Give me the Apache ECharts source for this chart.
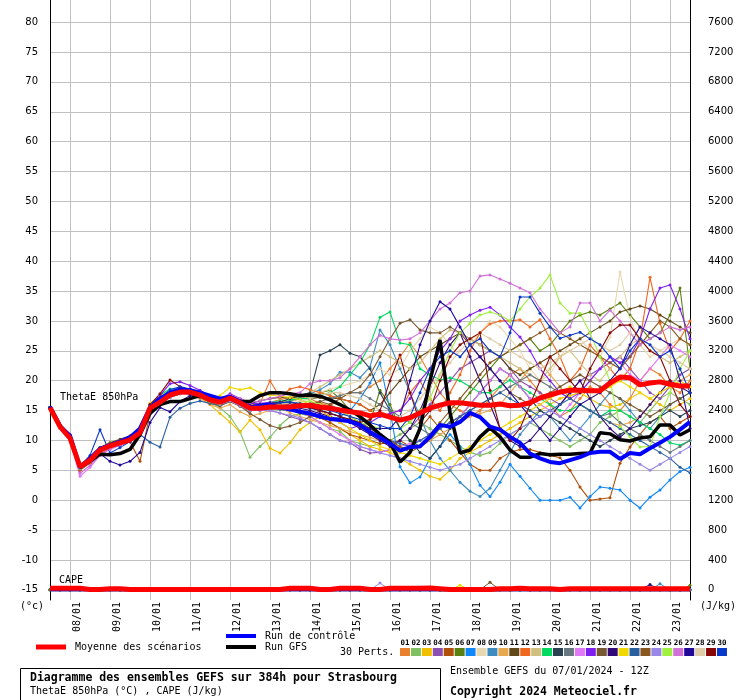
<!DOCTYPE html>
<html><head><meta charset="utf-8">
<script src="https://cdn.jsdelivr.net/npm/echarts@6/dist/echarts.min.js"></script>
<style>html,body{margin:0;padding:0;background:#fff}#c{width:740px;height:700px}</style>
</head><body><div id="c"></div><script>
// 6-hourly steps, 07/01/2024 12Z -> 23/01/2024 12Z
const times = ['07/01 12Z','07/01 18Z',
'08/01 00Z','08/01 06Z','08/01 12Z','08/01 18Z','09/01 00Z','09/01 06Z','09/01 12Z','09/01 18Z',
'10/01 00Z','10/01 06Z','10/01 12Z','10/01 18Z','11/01 00Z','11/01 06Z','11/01 12Z','11/01 18Z',
'12/01 00Z','12/01 06Z','12/01 12Z','12/01 18Z','13/01 00Z','13/01 06Z','13/01 12Z','13/01 18Z',
'14/01 00Z','14/01 06Z','14/01 12Z','14/01 18Z','15/01 00Z','15/01 06Z','15/01 12Z','15/01 18Z',
'16/01 00Z','16/01 06Z','16/01 12Z','16/01 18Z','17/01 00Z','17/01 06Z','17/01 12Z','17/01 18Z',
'18/01 00Z','18/01 06Z','18/01 12Z','18/01 18Z','19/01 00Z','19/01 06Z','19/01 12Z','19/01 18Z',
'20/01 00Z','20/01 06Z','20/01 12Z','20/01 18Z','21/01 00Z','21/01 06Z','21/01 12Z','21/01 18Z',
'22/01 00Z','22/01 06Z','22/01 12Z','22/01 18Z','23/01 00Z','23/01 06Z','23/01 12Z'];

const thetaTicks = [-15,-10,-5,0,5,10,15,20,25,30,35,40,45,50,55,60,65,70,75,80];
const capeTicks = [0,400,800,1200,1600,2000,2400,2800,3200,3600,4000,4400,4800,5200,5600,6000,6400,6800,7200,7600];

// ThetaE 850 hPa (°C)
const meanTheta = [15.5,12.3,10.4,5.6,6.7,8.4,9.1,9.6,10.1,11.3,15.4,16.4,17.6,18.1,18.1,17.6,16.8,16.4,17.1,16.3,15.4,15.4,15.6,15.6,15.6,15.8,15.9,15.6,15.4,15.1,14.8,14.6,14.1,14.4,13.9,13.4,13.8,14.6,15.4,15.9,16.3,16.3,16.1,15.9,15.9,16.1,15.8,15.9,16.3,17.1,17.6,18.1,18.4,18.4,18.3,18.3,19.6,20.6,20.5,19.3,19.6,19.8,19.4,19.1,19.1];
const controlTheta = [15.6,12.4,10.8,5.5,7,8.6,9.2,9.8,10.5,12,15.5,17,18,18.5,18.4,18,17.5,17,17.3,16.5,15.5,15.8,16,15.5,15.2,14.8,14.5,14,13.6,13.4,13.2,12.6,11.4,10.5,9.5,8.3,8.9,9,10.6,12.6,12.3,13.1,14.6,13.9,12.3,11.8,10.6,9.6,7.8,7,6.4,6.2,6.7,7.2,7.9,8.1,8.1,6.9,7.9,7.7,8.7,9.6,10.6,11.8,13.1];
const gfsTheta = [15.6,12.5,10.5,5.5,6.5,7.7,7.6,7.8,8.5,11,14.5,16,16.5,16.5,17,17.5,17,16.5,17,16.5,16.5,17.5,18,18,17.8,17.5,17.6,17.4,16.8,16,15.1,14,12.6,11,9.7,6.4,8,12,20,26.8,14.6,7.9,8.4,10.6,12.1,10.6,8.4,7.2,7.2,7.8,7.6,7.7,7.7,7.8,7.9,11.3,11.1,10.1,9.9,10.4,10.6,12.6,12.6,10.9,11.8];

const pert01 = [15.5,12,10.6,5.2,7,8.8,9.5,10,10.6,12,16,17.2,18.2,18.6,18.4,17.8,17,16.8,17.5,16.6,15.8,16,16.4,16.8,17.2, 17.6,17,16.2,15.8,17,18,18,19,20,22,24, 26.3,24,21,18,16,15,14,15,17,19,21,22,20,18,16,14,15,17,19,18,16,15,17,20,22,21,19,18,20];
const pert02 = [15.5,12.5,10.2,5.8,6.5,8.2,9.3,9.9,10.5,11.8,15.2,16.2,17.4,18,17.8,17.2,16.4,15.5,14,11.5,7.2,9,10.5,12.5,14, 14.5,14,13,12,11.5,10,9.5,9,9.5,10,11, 12,13,12,11,10,9,8,7.5,8,9.5,11,12,13,12,11,10,9,10,11,13,14,15,14,13,15,17,18,17,16];
const pert03 = [15.5,12.4,10.8,5.5,6.8,8.6,9.6,10.1,10.6,12.2,16.2,17.4,18.3,18.4,18,17.2,16,14.5,13.1,11.4,13.4,11.8,8.7,7.9,9.6, 11.8,13,14,13,12,11,10,9,8.5,8,7, 6,5,4,3.5,5,7,8,9,10,11,12,13,14,15,16,17,17.5,18,17,16,15.5,16,17,18,17,16,15,16,17];
const pert04 = [15.5,12.2,10.4,5.4,6.6,8.2,8.9,9.4,10,11,15,16.5,17.8,18.5,18.6,18,17.2,16.6,17.5,16.8,15.8,15.2,15,14.6,14, 13.5,13,12,11,10,9.6,8.5,7.9,8,8.5,10, 12,14,16,18,20,22,23,24,25,24,22,20,19,18,17,16,18,20,21,22,23,24,22,20,18,17,19,21,22];
const pert05 = [15.5,12.6,11,5,6.2,7.8,8.6,9.2,9.8,6.5,14.5,16,17.2,17.8,17.8,17.4,16.6,16.2,16.8,16,15,15.2,15.4,15.2,15, 14.6,14.2,13.8,13,12,11,10.5,10,9.5,9.5,10, 9,12,14,12,10,8,6,5,5,7,8,8.5,8.5,8,7.5,7.1,5,2.2,0,0.2,0.4,6.2,8.9,11,13,14,12,13,14];
const pert06 = [15.5,12.4,10.5,5.7,6.9,8.5,9.3,9.8,10.4,11.6,15.6,16.8,17.8,18.2,18,17.5,16.7,16.2,17,16.2,15.6,15.8,16,16.2,16.6, 17,17.5,18,18.4,17,15,14,13,18.4,16,12, 10,9,10,12,14,16,18,20,22,24,25,26,27,25,26,28,30,31,31.5,31,32,33,31,29,27,28,31,35.5,22];
const pert07 = [15.5,12.2,10.3,5.8,7,8.8,9.4,9.8,10.4,12,15.8,17,18,18.6,18.4,17.8,17,16.5,17.2,16.6,15.8,15.6,15.4,15.2,15, 14.8,14.5,14,13.5,14,15,17,19.6,23,15,5.6, 2.9,3.9,7,9,11,9,6,2.5,0.6,3,6,4,2,0,0,0,0.5,-1.3,0.6,2.2,2,1.7,0,-1.3,0.5,1.7,3.4,4.8,5.5];
const pert08 = [15.5,12.3,10.6,5.5,6.6,8.3,9,9.5,10,11.2,15.2,16.6,17.8,18.4,18.2,17.6,16.8,16.4,17.2,16.6,15.8,16,16.4,16.6,16.8, 17,17.4,18,18.6,19,19.5,20,21,22,21,22, 25,27,29,28,26,24,26,28,30,29,27,25,22,20,21,24,26,27,25,24,27.3,38.2,30.6,26,24,25,26,27,26];
const pert09 = [15.5,12.4,10.6,5.5,6.8,8.5,9.2,9.7,10.2,11.4,15.4,16.6,17.6,18,17.8,17.2,16.6,16.1,16.8,16,15.2,15.4,15.8,16.2,16.6, 17,17.8,18.5,19.5,21.4,21.4,20.5,22.3,28.5,26,22, 18,14,10,7,5,3,1.5,0.6,2,5,8,11,13,15,14,12,10,12,14,16,18,17,15,13,12,14,16,17,18];
const pert10 = [15.5,12.1,10.2,5.3,6.4,8,8.8,9.4,9.9,11,15,16.2,17.3,17.8,17.6,17,16,15.4,16,14.8,14,14.5,15,15.5,14.6, 14,13.5,13,12.5,12,11.5,11,10.5,10,9.5,9, 8.5,9,10,11,12,13,14,14.5,15,16,18,20,22,23,21,19,17,16,15,14,13,12.5,13,14,16,18,19,20,21];
const pert11 = [15.5,12.5,10.8,5.9,7.2,8.8,9.6,10.2,10.8,12,15.8,17,18.2,18.8,18.6,18,17.2,16.8,17.5,16.8,16.2,16.6,17,17.2,17.1, 17.1,17,17.2,17.1,17,16.5,16,15,16,18,20, 22,24,25,26,27,28,27,26,25,24,22,21,22,23,24,25,26,27,28,29,30,31.5,32,32.5,32,31,30,29,28];
const pert12 = [15.5,12.3,10.5,5.6,6.9,8.6,9.2,9.7,10.3,11.6,15.6,16.6,17.7,18.2,18.3,17.9,17.2,16.6,17.3,16.7,15.9,16.2,20,17.2,18.6, 19,18.5,18,17.5,17,16.5,16,15,14,14.5,15, 18,20,17,15,18,21,25,28,29.5,30,30,30.2,29,30.2,27,24,20,22,26,24,22,20,22,26.8,37.3,29.6,25,27,30];
const pert13 = [15.5,12.2,10.4,5.7,6.8,8.4,9.1,9.6,10.1,11.3,15.3,16.4,17.5,18,17.9,17.4,16.6,16.2,16.9,16.2,15.4,15.6,15.8,16,16.4, 17,18,19,20,21,22,23,24,25,24,23, 22,23,25,27,28.5,28,27,26,25,24,23,22,21,20,22,24,25,23,21,20,22,24,26,27,25,24,23,24,25];
const pert14 = [15.5,12.4,10.6,5.4,6.6,8.3,9.2,9.8,10.5,12,16,17.6,18.6,18.6,18.2,17.6,16.8,16.6,17.4,16.6,15.8,16,16.4,16.6,16.8, 17,17,17.5,18,19,21,23,26,30.6,31.5,26.3, 26,22,21,20.1,20.5,20,19,18,18,19,20.1,19,18,17,16,15,15,16,15,14,15,15,14,13,12,11,9.6,9.2,10];
const pert15 = [15.5,12.3,10.5,5.6,6.8,8.5,9.2,9.7,10.2,11.4,15.3,16.5,17.6,18.1,18,17.5,16.7,16.3,17,16.4,15.6,15.8,16,16.4,17, 17.5,18,24.3,25,26,24.6,24,22,18,15,12, 10,8,7,9,12,14,16,18,20,22,21,19,17,15,14,13,12,11,10,9,10,11,12,12.5,13,14,15,14,15];
const pert16 = [15.5,12.2,10.3,5.5,6.7,8.3,9,9.5,10,11.2,15.2,16.3,17.4,17.9,17.8,17.3,16.5,16,16.8,16,15,15,15.2,15.4,15.6, 15.8,16,16.5,17,17.5,18,18,17,16,15,14, 13,12,11,12,13,14,15,16,17,18,19,20,21,20,19,18,17,16,15,14,14.5,13,12,11,10,9,8,9,10];
const pert17 = [15.5,12,10,4,5.5,7.5,8.5,9.2,9.8,11,15,16.4,17.6,18.2,18.2,17.6,16.8,16.4,17,16.2,15.2,15.2,15.4,15.4,15.4, 15,14,13,12,11,10,9,8.5,8,8.5,9, 9.5,10,11,12,13,14,16,18,20,22,21,19,17,16,15,14,16,18,20,22,24,23,21,20,22,24,26,25,24];
const pert18 = [15.5,12.3,10.5,5.5,6.8,8.5,9.2,9.7,10.3,11.5,15.7,17.5,19.5,19.8,19.2,18.4,17.4,16.9,17.8,17,16.2,16.2,16.4,16.4,16.2, 16,15.5,15,14,13,12,12.5,13,14,14.5,15, 17,20,22,25,27,30,31,31.8,32.3,31,29,27.3,25,22,20,18,17,18,20,22,24,23,24,27,32,35.5,36,32,27];
const pert19 = [15.5,12.5,10.7,5.7,7,8.6,9.4,9.9,10.5,11.8,15.8,17,18,18.4,18.2,17.6,16.8,16.2,16.8,15.8,14.5,13.5,12.5,12,12.4, 13,14,15,16,17,18,19,21,24,27,29.6, 30.2,28.5,28,28,29,28,26,24,22,20,18,17,16,17,18,19,20,21,20,19,18,17,16,15,14,15,16,17,18];
const pert20 = [15.5,12.4,10.5,5.6,6.7,8.3,9,9.4,9.8,10.8,14.8,16.2,17.4,17.9,17.8,17.4,16.6,16.2,16.9,16.2,15.4,15.4,15.6,15.6,15.6, 15.4,15,14.5,14,13.5,13,12,11,10,9,10, 12,15,19,23,26,28,24,20,16,12,10,9,10,12,14,16,18,20,17,14,12,10.5,12,14,16,18,20,19,18];
const pert21 = [15.5,12.2,10.5,5.6,6.8,8.5,9.1,9.6,10.1,11.3,15.4,16.6,17.6,18,17.8,17.3,16.8,17.5,18.9,18.5,18.8,18,17.6,17.4,17.2, 16.8,16,15,14,13,12,11,10,9,8.5,8, 7.5,7,6.5,6,7,8,9,10,11,12,13,14,15,16,17,18,19,18,17,18,19,20,19,18,17,18,19,20,19];
const pert22 = [15.5,12.4,10.6,5.6,6.8,8.6,9.3,9.8,10.3,11,9.7,8.9,13.9,15.4,16.2,16.6,16.2,15.8,16.5,15.8,15,15.2,15.4,15.5,15.6, 15.6,15.4,15,14.6,14,13.5,13,12,11,10,9.5, 9,10,11,12,13,14,15,16,17,18,17,16,15,14,15,16,17,16,15,14,13,12,11,10,9,8,7,5.5,4.6];
const pert23 = [15.5,12.6,10.9,5.6,6.9,8.5,9.2,9.7,10.2,11.2,15.2,16.5,17.6,18,17.8,17.2,16.4,15.8,16.5,15.7,15,15.2,15.4,15.6,15.8, 16,16.2,16.5,16,15,14,13,12,11,10,9, 8,9,11,13,15,17,19,21,23,24,25,26,27,28,29,28,27,26,25,24,23,22,24,26,28,30,29,27,26];
const pert24 = [15.5,12.1,10.3,5.4,6.5,8.2,9,9.5,10,11.1,15,16,17.2,17.8,17.8,17.4,16.6,16,16.6,15.8,15,15,15,14.6,14.2, 13.8,13,12,11,10,9.5,9,8.5,7.9,7.5,7, 6.5,6,5.5,5,5.5,6,7,8,9,10,11,12,13,14,15,14,13,12,11,10,9,8,7,6,5,6,7,8,9];
const pert25 = [15.5,12.3,10.6,5.8,7,8.7,9.4,9.9,10.5,11.8,15.6,16.8,17.8,18.2,18,17.4,16.6,16.2,17,16.2,15.4,15.6,15.8,16,16.2, 16.4,16.6,16,15.5,15,14,13,12.5,12,12,12, 13,15,17,21,25,28,29.6,31,31.5,31,30,32,34,35.5,37.7,33,31.3,31.3,28,24,20,12.3,10.6,8.9,9,14,18,22,25];
const pert26 = [15.5,12.2,10.3,4.5,5.8,7.6,8.6,9.2,9.8,11,15.2,16.6,17.8,18.4,18.4,17.8,17,16.8,17.6,17,16.4,16.6,17,17.4,17.8, 18,19.5,20,20,20.5,22,24,26,27.6,27,26.8, 27,28,30,32,33,34.7,35,37.5,37.7,37,36.3,35.5,34.7,32,30,28,29,33,33,30,31.8,30,28,26,27,28,29,28.5,29];
const pert27 = [15.5,12.4,10.7,5.6,6.6,7.8,6.5,5.9,6.5,8,13,15.5,14.8,16.5,17.5,17.4,16.8,16.4,17,16.4,15.6,15.6,15.8,16,16, 15.8,15.5,15,14.5,14,13,12.5,12,12,12,14, 20,26,30,33.2,32,29,26,24,22,20,18,16,14,12,10,12,14,16,17,18,20,22,26,29,28,27,26,20,12];
const pert28 = [15.5,12.3,10.5,5.5,6.7,8.4,9.1,9.6,10.1,11.3,15.4,16.4,17.5,18,18,17.5,16.7,16.3,17,16.2,15.4,15.6,15.8,16,16.2, 16.5,17,17.5,18,18,17.5,17,16,15,14,14, 15,17,19,21,23,25,26.8,28,27,26,25,24,23,22,23,24,25,26,27,26,25,26,28,27,26,25,24,23,22];
const pert29 = [15.5,12.5,10.7,5.7,6.9,8.6,9.4,9.9,10.5,12,16,17.8,20.1,19,18.4,17.8,17,16.6,17.4,16.6,15.8,16,16.2,16.4,16.4, 16,15.5,15,14.5,14,13.5,13,13.5,15,20,24.3, 18,13,15,20,24,26,27,28,18.4,12,10,12,16,20,24,22,20,18,22,25,28,29.3,29.3,27,25,24,20,16,14];
const pert30 = [15.5,12.3,10.5,5.6,7.5,11.8,7.9,8.8,9.8,11.4,15.6,17,18.5,19,18.6,17.8,17,16.6,17.3,16.6,15.8,16,16.2,16.3,16.4, 16.2,16,15.5,15,14.5,14,13.5,13,12.5,12,12, 14,18,22,24,25,24,26,27,25,24,28,34,34,31.3,29,27.1,27.6,28.1,27,26,24,22,25,27,26,24,25,22,18];

const perts = [pert01,pert02,pert03,pert04,pert05,pert06,pert07,pert08,pert09,pert10,pert11,pert12,pert13,pert14,pert15,
               pert16,pert17,pert18,pert19,pert20,pert21,pert22,pert23,pert24,pert25,pert26,pert27,pert28,pert29,pert30];
const pertNames = ['01','02','03','04','05','06','07','08','09','10','11','12','13','14','15','16','17','18','19','20','21','22','23','24','25','26','27','28','29','30'];
const pertColors = ['#e8802e','#80c060','#f0c000','#8c50b0','#b0500a','#5a8010','#1088f8','#e8d8b0','#3c8cc0','#e8a850',
                    '#604818','#f06820','#d0c080','#00d860','#284050','#687880','#e078f8','#8020f0','#785830','#300878',
                    '#f0d800','#2860a0','#885820','#9888e8','#a0f040','#d070d8','#200898','#e0cca8','#880808','#0838c8'];

// CAPE (J/kg)
const meanCape = [20,20,20,20,5,5,15,15,5,5,5,5,5,5,5,5,5,5,5,5,5,5,5,5,20,20,20,5,5,20,20,20,5,5,20,20,20,20,25,15,5,5,5,5,5,15,15,20,15,15,15,5,15,15,15,15,15,15,15,15,15,15,15,15,15];
const controlCape = [0,0,0,0,0,0,0,0,0,0,0,0,0,0,0,0,0,0,0,0,0,0,0,0,0,0,0,0,0,0,0,0,0,0,0,0,0,0,0,0,0,0,0,0,0,0,0,0,0,0,0,0,0,0,0,0,0,0,0,0,0,0,0,0,0];
const gfsCape = [0,0,0,0,0,0,0,0,0,0,0,0,0,0,0,0,0,0,0,0,0,0,0,0,0,0,0,0,0,0,0,0,0,0,0,0,0,0,0,0,0,0,0,0,0,0,0,0,0,0,0,0,0,0,0,0,0,0,0,0,0,0,0,0,0];
// perturbation CAPE peaks: [member index, step index, value]; zero elsewhere
const pertCapePeaks = [[23,33,90],[20,41,60],[18,44,100],[19,60,70],[8,61,80],[5,64,60]];

const monoFont = '"DejaVu Sans Mono", monospace';

const series = [];
perts.forEach((d, k) => {
  series.push({
    name: pertNames[k], type: 'line', data: d, yAxisIndex: 0,
    symbol: 'circle', symbolSize: 3, showSymbol: true, showAllSymbol: true,
    lineStyle: { width: 1.1, color: pertColors[k] }, itemStyle: { color: pertColors[k] },
    silent: true, animation: false, z: 2
  });
});
pertCapePeaks.forEach(p => {
  const d = times.map((t, i) => (i === p[1] ? p[2] : 0));
  series.push({
    type: 'line', data: d, yAxisIndex: 1, symbol: 'circle', symbolSize: 3, showAllSymbol: true,
    lineStyle: { width: 1, color: pertColors[p[0]] }, itemStyle: { color: pertColors[p[0]] },
    silent: true, animation: false, z: 3
  });
});
series.push({ type: 'line', data: gfsCape, yAxisIndex: 1, symbol: 'none', lineStyle: { width: 3, color: '#000' }, silent: true, z: 4 });
series.push({ type: 'line', data: controlCape, yAxisIndex: 1, symbol: 'none', lineStyle: { width: 3, color: '#0000ff' }, silent: true, z: 4 });
series.push({ type: 'line', data: gfsTheta, yAxisIndex: 0, symbol: 'none', lineStyle: { width: 3.5, color: '#000' }, silent: true, z: 5 });
series.push({ type: 'line', data: controlTheta, yAxisIndex: 0, symbol: 'none', lineStyle: { width: 4, color: '#0000ff' }, silent: true, z: 6 });
series.push({ type: 'line', data: meanTheta, yAxisIndex: 0, symbol: 'none', lineStyle: { width: 5, color: '#ff0000' }, silent: true, z: 7 });
series.push({ type: 'line', data: meanCape, yAxisIndex: 1, symbol: 'none', lineStyle: { width: 5, color: '#ff0000' }, silent: true, z: 7 });

const gridLine = (i) => i % 4 === 2;

const graphics = [
  { type: 'text', x: 60, y: 397, style: { text: 'ThetaE 850hPa', font: '10px ' + monoFont, fill: '#000', verticalAlign: 'middle' }, z: 100 },
  { type: 'text', x: 59, y: 580, style: { text: 'CAPE', font: '10px ' + monoFont, fill: '#000', verticalAlign: 'middle' }, z: 100 },
  { type: 'text', x: 20, y: 606, style: { text: '(°c)', font: '10px ' + monoFont, fill: '#000', verticalAlign: 'middle' } },
  { type: 'text', x: 700, y: 606, style: { text: '(J/kg)', font: '10px ' + monoFont, fill: '#000', verticalAlign: 'middle' } },
  { type: 'line', shape: { x1: 36, y1: 647, x2: 66, y2: 647 }, style: { stroke: '#ff0000', lineWidth: 5 } },
  { type: 'text', x: 75, y: 647, style: { text: 'Moyenne des scénarios', font: '10px ' + monoFont, fill: '#000', verticalAlign: 'middle' } },
  { type: 'line', shape: { x1: 226, y1: 636, x2: 256, y2: 636 }, style: { stroke: '#0000ff', lineWidth: 4 } },
  { type: 'text', x: 265, y: 636, style: { text: 'Run de contrôle', font: '10px ' + monoFont, fill: '#000', verticalAlign: 'middle' } },
  { type: 'line', shape: { x1: 226, y1: 647, x2: 256, y2: 647 }, style: { stroke: '#000', lineWidth: 4 } },
  { type: 'text', x: 265, y: 647, style: { text: 'Run GFS', font: '10px ' + monoFont, fill: '#000', verticalAlign: 'middle' } },
  { type: 'text', x: 340, y: 652, style: { text: '30 Perts.', font: '10px ' + monoFont, fill: '#000', verticalAlign: 'middle' } },
  { type: 'rect', shape: { x: 20.5, y: 668.5, width: 420, height: 40 }, style: { fill: '#fff', stroke: '#000', lineWidth: 1 } },
  { type: 'text', x: 30, y: 678, style: { text: 'Diagramme des ensembles GEFS sur 384h pour Strasbourg', font: 'bold 11.5px ' + monoFont, fill: '#000', verticalAlign: 'middle' } },
  { type: 'text', x: 30, y: 691, style: { text: 'ThetaE 850hPa (°C) , CAPE (J/kg)', font: '10px ' + monoFont, fill: '#000', verticalAlign: 'middle' } },
  { type: 'text', x: 450, y: 671, style: { text: 'Ensemble GEFS du 07/01/2024 - 12Z', font: '10px ' + monoFont, fill: '#000', verticalAlign: 'middle' } },
  { type: 'text', x: 450, y: 692, style: { text: 'Copyright 2024 Meteociel.fr', font: 'bold 11.5px ' + monoFont, fill: '#000', verticalAlign: 'middle' } }
];
pertColors.forEach((c, k) => {
  const x0 = 400 + k * 10.93;
  graphics.push({ type: 'rect', shape: { x: x0, y: 648, width: 10, height: 8 }, style: { fill: c } });
  graphics.push({ type: 'text', x: x0 + 5, y: 643, style: { text: pertNames[k], font: 'bold 7.5px ' + monoFont, fill: '#000', align: 'center', verticalAlign: 'middle' } });
});

const chart = echarts.init(document.getElementById('c'), null, { renderer: 'canvas' });
chart.setOption({
  animation: false,
  backgroundColor: '#fff',
  grid: { left: 50, right: 50, top: 0, bottom: 100, containLabel: false, outerBoundsMode: 'none' },
  xAxis: {
    type: 'category', data: times, boundaryGap: false,
    axisLine: { show: false }, axisTick: { show: false },
    axisLabel: { interval: gridLine, rotate: 90, verticalAlign: 'top', margin: 2, padding: [2, 0, 0, 0],
      formatter: v => v.slice(0, 5), fontFamily: monoFont, fontSize: 10, color: '#000' },
    splitLine: { show: true, interval: gridLine, lineStyle: { color: '#c0c0c0', width: 1 } }
  },
  yAxis: [{
    type: 'value', position: 'left', min: -16.7, max: 83.7,
    axisLine: { show: true, lineStyle: { color: '#000', width: 1 } },
    axisTick: { show: false, customValues: thetaTicks },
    axisLabel: { customValues: thetaTicks, margin: 12, color: '#000', fontFamily: '"DejaVu Sans", sans-serif', fontSize: 10,
      formatter: v => String(v) },
    splitLine: { show: true, lineStyle: { color: '#c0c0c0', width: 1 } }
  }, {
    type: 'value', position: 'right', min: -136, max: 7896,
    axisLine: { show: true, lineStyle: { color: '#000', width: 1 } },
    axisTick: { show: false, customValues: capeTicks },
    axisLabel: { customValues: capeTicks, margin: 18, color: '#000', fontFamily: '"DejaVu Sans", sans-serif', fontSize: 10,
      formatter: v => String(v) },
    splitLine: { show: false }
  }],
  series: series,
  graphic: { elements: graphics }
});
</script></body></html>
